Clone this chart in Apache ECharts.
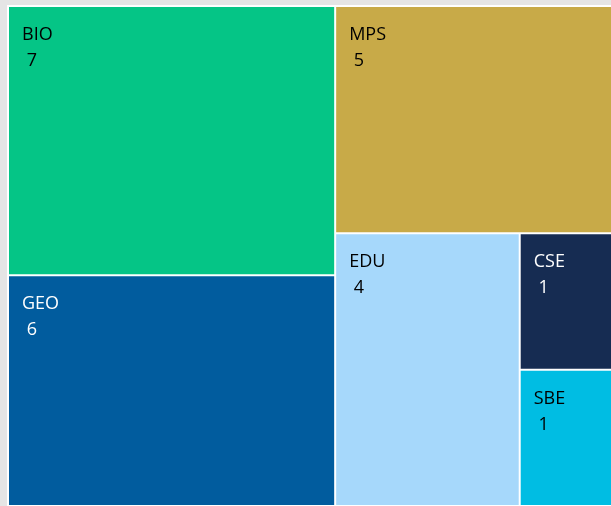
<!DOCTYPE html>
<html>
<head>
<meta charset="utf-8">
<script src="https://cdn.jsdelivr.net/npm/echarts@6/dist/echarts.min.js"></script>
<style>
  html, body { margin: 0; padding: 0; background: #e5e5e5; }
  #chart { width: 611px; height: 506px; }
</style>
</head>
<body>
<div id="chart"></div>
<script>
const names  = ['BIO', 'GEO', 'MPS', 'EDU', 'CSE', 'SBE']
const values = [7, 6, 5, 4, 1, 1]
const colors = ['#05c586', '#015c9e', '#c8aa48', '#a6d8fb', '#162c52', '#00bde3']
const darkText = ['GEO', 'CSE']

const chart = echarts.init(document.getElementById('chart'))

const nodes = names.map((n, i) => ({
  name: n,
  value: values[i],
  itemStyle: { color: colors[i] },
  label: { color: darkText.includes(n) ? '#ffffff' : '#000000' }
}))

chart.setOption({
  backgroundColor: '#e5e5e5',
  series: [{
    type: 'treemap',
    left: 7, top: 5, width: 606, height: 502,
    roam: false,
    nodeClick: false,
    sort: false,
    breadcrumb: { show: false },
    animation: false,
    label: {
      show: true,
      position: [8, 10],
      formatter: '{b}\n {c}',
      fontFamily: 'Open Sans',
      fontSize: 18,
      lineHeight: 26
    },
    levels: [
      { itemStyle: { borderColor: '#ffffff', borderWidth: 2, gapWidth: 2 } },
      { itemStyle: { borderWidth: 0 } }
    ],
    data: nodes
  }]
})
</script>
</body>
</html>
